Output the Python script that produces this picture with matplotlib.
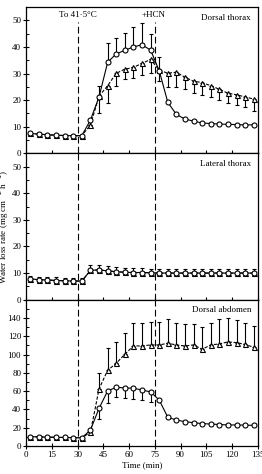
import numpy as np
import matplotlib.pyplot as plt
from matplotlib.ticker import MultipleLocator

plt.rcParams['font.family'] = ['Liberation Serif', 'DejaVu Serif']

# Sampling times (min)
time = np.arange(2.5, 135, 5)

# Dorsal thorax
dt_circ = [7.5, 7.2, 7.0, 6.8, 6.7, 6.6, 6.7, 12.5, 21.2, 34.2, 37.4, 38.7, 40.0, 40.8,
           38.8, 31.1, 19.2, 14.6, 12.9, 12.1, 11.4, 11.2, 11.0, 10.9, 10.8, 10.7, 10.7]
dt_circ_err = [0, 0, 0, 0, 0, 0, 0, 0, 4.0, 7.1, 5.8, 6.6, 7.3, 8.0,
               6.2, 5.2, 0, 0, 0, 0, 0, 0, 0, 0, 0, 0, 0]
dt_tri = [7.5, 7.2, 7.0, 6.8, 6.7, 6.6, 6.7, 10.6, 21.5, 25.4, 30.1, 31.6, 32.3, 33.8,
          35.3, 31.3, 30.1, 30.5, 28.6, 27.1, 26.6, 25.4, 24.1, 22.6, 22.0, 21.2, 20.4]
dt_tri_err = [0, 0, 0, 0, 0, 0, 0, 0, 6.3, 6.5, 4.7, 3.7, 4.1, 4.3,
              5.2, 4.3, 5.0, 5.6, 4.5, 4.5, 4.6, 4.2, 4.0, 3.7, 3.7, 3.6, 4.6]

# Lateral thorax
lt_circ = [7.8, 7.5, 7.4, 7.2, 7.1, 7.0, 7.0, 11.0, 11.2, 10.8, 10.5, 10.3, 10.2, 10.2,
           10.1, 10.0, 10.0, 10.0, 10.0, 10.0, 10.0, 10.0, 10.0, 10.0, 10.0, 10.0, 10.0]
lt_circ_err = [1.2, 1.2, 1.2, 1.2, 1.2, 1.2, 1.2, 2.0, 2.0, 1.8, 1.7, 1.6, 1.6, 1.6,
               1.6, 1.6, 1.6, 1.6, 1.6, 1.6, 1.6, 1.6, 1.6, 1.6, 1.6, 1.6, 1.6]
lt_tri = [7.8, 7.5, 7.4, 7.2, 7.1, 7.0, 7.0, 11.0, 11.2, 10.8, 10.5, 10.3, 10.2, 10.2,
          10.1, 10.0, 10.0, 10.0, 10.0, 10.0, 10.0, 10.0, 10.0, 10.0, 10.0, 10.0, 10.0]

# Dorsal abdomen
da_circ = [10.2, 10.0, 9.7, 9.5, 9.3, 9.2, 9.0, 17.5, 41.2, 60.2, 64.2, 63.5, 63.1, 61.3,
           59.1, 50.3, 31.4, 28.4, 26.6, 25.5, 24.5, 24.0, 23.5, 23.0, 23.0, 22.8, 22.6]
da_circ_err = [0, 0, 0, 0, 0, 0, 0, 0, 12.0, 12.8, 10.9, 11.0, 12.0, 11.0,
               10.6, 0, 0, 0, 0, 0, 0, 0, 0, 0, 0, 0, 0]
da_tri = [10.2, 10.0, 9.7, 9.5, 9.3, 9.2, 9.0, 15.0, 62.4, 82.8, 90.4, 100.3, 109.4, 109.4,
          110.5, 110.5, 112.3, 110.5, 109.4, 110.5, 105.8, 110.5, 111.6, 113.8, 113.0, 111.0, 108.0]
da_tri_err = [0, 0, 0, 0, 0, 0, 0, 0, 17.1, 24.1, 23.7, 23.7, 25.5, 25.5,
              25.5, 25.5, 26.3, 24.4, 24.1, 23.4, 24.1, 24.4, 27.0, 25.9, 24.8, 24.0, 23.0]

panels = [
    ('Dorsal thorax', dt_circ, dt_circ_err, dt_tri, dt_tri_err, 55, 10, 5, 'circ_up'),
    ('Lateral thorax', lt_circ, lt_circ_err, lt_tri, None, 55, 10, 5, 'circ_up'),
    ('Dorsal abdomen', da_circ, da_circ_err, da_tri, da_tri_err, 160, 20, 10, 'tri_up'),
]

fig = plt.figure(figsize=(2.62, 4.74), dpi=100)
left, right, bottom, top = 26 / 262, 258 / 262, 1 - 446 / 474, 1 - 7 / 474
h = (top - bottom) / 3

mk = dict(markersize=3.6, markerfacecolor='white', markeredgecolor='black',
          markeredgewidth=0.8, color='black', linewidth=0.8)
eb = dict(fmt='none', ecolor='black', elinewidth=0.8, capsize=1.5, capthick=0.8)

axes = []
for i, (name, c, ce, t, te, ymax, major, minor, mode) in enumerate(panels):
    ax = fig.add_axes([left, top - (i + 1) * h, right - left, h])
    axes.append(ax)
    c = np.array(c); t = np.array(t)
    ce = np.array(ce)
    z = np.zeros_like(ce)
    if mode == 'circ_up':
        ax.errorbar(time, c, yerr=[z, ce], **eb)
        if te is not None:
            te = np.array(te)
            ax.errorbar(time, t, yerr=[te, np.zeros_like(te)], **eb)
    else:
        ax.errorbar(time, c, yerr=[ce, z], **eb)
        te = np.array(te)
        ax.errorbar(time, t, yerr=[np.zeros_like(te), te], **eb)
    ax.plot(time, t, marker='^', linestyle=(0, (3, 1.5)), **mk)
    ax.plot(time, c, marker='o', linestyle='-', **mk)

    # dashed markers for temperature step and HCN addition
    ymax_line = 0.9 if i == 0 else 1.0
    for xv in (30, 75):
        ax.axvline(xv, ymax=ymax_line, color='black', linewidth=0.8, linestyle=(0, (6, 3)))

    ax.set_xlim(0, 135)
    ax.set_ylim(0, ymax)
    ax.xaxis.set_major_locator(MultipleLocator(15))
    ax.yaxis.set_major_locator(MultipleLocator(major))
    ax.yaxis.set_minor_locator(MultipleLocator(minor))
    ax.set_yticks(np.arange(0, ymax, major))
    ax.tick_params(axis='both', which='major', direction='inout', length=5,
                   width=0.8, labelsize=6.5, pad=1, top=False, right=False)
    ax.tick_params(axis='y', which='minor', direction='in', length=2.5, width=0.7)
    for s in ax.spines.values():
        s.set_linewidth(0.9)
    ax.text(0.97, 0.955, name, transform=ax.transAxes, ha='right', va='top', fontsize=6.5)
    if i < 2:
        ax.tick_params(axis='x', labelbottom=False)

axes[0].text(30, 53.5, 'To 41·5°C', ha='center', va='top', fontsize=6.5)
axes[0].text(74.5, 53.5, '+HCN', ha='center', va='top', fontsize=6.5)
axes[1].set_ylabel('Water loss rate (mg cm$^{-2}$ h$^{-1}$)', fontsize=6.5, labelpad=1)
axes[2].set_xlabel('Time (min)', fontsize=6.5, labelpad=2)
axes[2].set_xticks(np.arange(0, 136, 15))

fig.savefig('out.png', dpi=100)
